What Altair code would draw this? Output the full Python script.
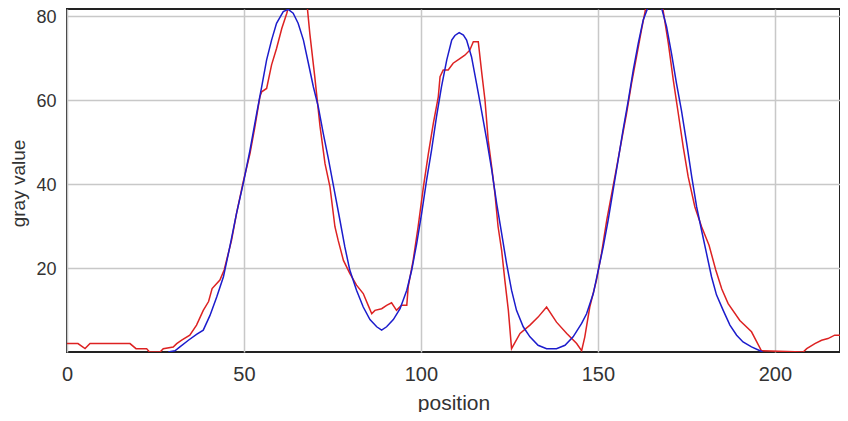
import altair as alt
import pandas as pd

# red profile (measured gray values)
red_pos = [0, 3.1, 5.1, 6.5, 17.8, 19.5, 22.5, 23.3, 26.3, 27.2, 30.0, 31.0, 32.4,
           34.7, 36.6, 38.5, 40.0, 41.0, 43.2, 44.4, 46.5, 47.9, 49.8, 51.7, 53.1,
           54.5, 55.0, 56.4, 57.8, 59.2, 60.7, 62.1, 63.0, 64.5, 66.3, 67.2, 67.7,
           68.6, 70.0, 71.5, 72.9, 74.3, 75.7, 76.6, 78.1, 79.9, 81.8, 83.7, 85.1,
           86.1, 87.0, 88.9, 90.3, 91.7, 93.1, 94.5, 96.0, 96.4, 97.8, 99.2, 100.7,
           102.1, 103.5, 104.9, 105.4, 106.3, 107.7, 109.1, 111.0, 112.4, 113.8,
           114.8, 116.2, 117.2, 118.1, 119.0, 120.0, 120.9, 121.8, 122.8, 123.7,
           124.7, 125.6, 128.0, 130.8, 133.1, 135.5, 138.3, 141.2, 144.0, 145.4,
           146.3, 147.7, 149.6, 151.0, 152.5, 153.9, 155.3, 156.7, 158.1, 159.5,
           160.9, 162.3, 163.8, 165.0, 166.8, 167.8, 168.4, 169.9, 171.3, 172.7,
           174.1, 175.5, 177.4, 179.3, 181.4, 183.3, 185.0, 186.8, 190.1, 193.4,
           196.2, 208.0, 209.0, 211.3, 213.2, 215.0, 216.9, 220.6]
red_val = [2.0, 2.0, 0.8, 2.0, 2.0, 0.8, 0.8, 0.0, 0.0, 0.8, 1.2, 2.0, 2.8,
           4.0, 6.4, 9.9, 12.0, 15.1, 17.1, 19.5, 26.6, 33.0, 40.5, 47.2, 53.6,
           60.7, 61.9, 62.7, 68.3, 72.2, 77.0, 80.6, 83.7, 86.5, 88.0, 88.0, 83.7,
           75.8, 65.5, 53.6, 44.8, 39.3, 29.8, 26.6, 21.8, 18.7, 15.9, 13.9, 11.1,
           9.1, 9.9, 10.3, 11.1, 11.7, 9.9, 11.1, 11.1, 15.5, 21.8, 29.8, 39.3,
           47.2, 54.4, 60.7, 65.5, 67.1, 67.1, 68.7, 69.8, 70.6, 71.8,
           73.8, 73.8, 66.3, 59.9, 50.4, 44.0, 37.7, 29.8, 24.2, 17.1,
           9.9, 0.8, 4.4, 6.4, 8.3, 10.7, 7.1, 4.4, 2.0, 0.3,
           3.6, 10.7, 17.1, 23.4, 31.4, 37.7, 44.0, 50.4, 56.8, 63.9,
           70.2, 76.6, 83.0, 86.0, 87.0, 85.0, 81.4, 73.4, 64.7, 56.8,
           48.8, 41.7, 34.5, 29.8, 25.4, 19.5, 15.0, 11.5, 7.5, 4.8,
           0.3, 0.0, 0.8, 2.0, 2.8, 3.2, 4.0, 4.0]

# blue fitted curve
blue_pos = [28.6, 30.5, 31.9, 34.3, 36.6, 38.5, 40.4, 42.3, 44.2, 46.0, 47.9,
            49.8, 51.7, 53.6, 55.0, 56.4, 57.8, 59.2, 61.1, 62.5, 63.9, 65.3,
            66.8, 68.2, 69.6, 71.0, 72.4, 73.8, 75.7, 77.1, 78.5, 79.9, 81.8,
            83.7, 85.6, 87.5, 88.9, 90.3, 92.2, 94.1, 96.0, 97.4, 98.8, 100.2,
            101.6, 103.0, 104.4, 105.8, 107.3, 108.7, 109.6, 110.8, 112.0, 112.9,
            114.3, 115.7, 117.1, 118.6, 120.0, 121.4, 122.8, 124.2, 125.6, 127.0,
            128.9, 130.8, 133.1, 135.5, 138.3, 140.7, 143.0, 145.4, 146.8, 148.7,
            150.1, 151.5, 152.9, 154.3, 155.7, 157.1, 158.6, 160.0, 161.4, 162.8,
            164.2, 166.1, 168.0, 169.4, 170.8, 172.2, 173.6, 175.1, 176.5, 177.9,
            179.3, 180.7, 182.1, 183.5, 185.4, 187.3, 189.2, 191.0, 193.4, 195.8,
            196.5]
blue_val = [0.0, 0.3, 1.2, 2.8, 4.2, 5.2, 8.7, 13.1, 17.9, 25.0, 33.0,
            40.1, 48.0, 56.8, 63.1, 69.5, 74.2, 78.2, 81.0, 81.5, 80.6, 78.2,
            74.2, 68.7, 63.1, 58.3, 52.0, 46.2, 37.7, 31.4, 25.0, 19.5, 14.7,
            10.7, 7.7, 6.0, 5.2, 6.0, 7.7, 10.3, 14.7, 19.5, 25.8, 33.0,
            40.9, 48.0, 56.0, 63.1, 69.5, 74.2, 75.3, 76.0, 75.4, 74.2,
            70.2, 63.9, 57.5, 50.4, 43.3, 35.3, 28.2, 21.0, 14.7, 9.9,
            6.0, 3.6, 1.6, 0.8, 0.8, 1.6, 3.6, 6.8, 9.1, 13.9,
            19.5, 25.0, 31.4, 38.5, 45.6, 52.8, 59.9, 67.1, 73.4, 79.0,
            82.1, 83.3, 81.8, 77.4, 71.0, 63.9, 57.5, 49.6, 41.7, 34.5,
            28.9, 23.4, 17.9, 13.6, 9.9, 6.4, 4.0, 2.4, 1.2, 0.3,
            0.0]

x_ticks = [0, 50, 100, 150, 200]
y_ticks = [20, 40, 60, 80]

red_df = pd.DataFrame({"position": red_pos, "value": red_val})
blue_df = pd.DataFrame({"position": blue_pos, "value": blue_val})

FONT = "Liberation Sans"
TXT = "#333333"

x_enc = alt.X(
    "position:Q",
    scale=alt.Scale(domain=[0, 218.4], nice=False, zero=False),
    axis=alt.Axis(
        values=x_ticks, ticks=False, domain=False, labelFlush=False,
        labelFontSize=20, labelPadding=12, labelColor=TXT, labelFont=FONT,
        grid=True, gridColor="#c8c8c8", gridWidth=1.5,
        title="position", titleFontSize=21, titleFontWeight="normal",
        titleColor=TXT, titleFont=FONT, titleY=57, titleBaseline="alphabetic",
    ),
)
y_enc = alt.Y(
    "value:Q",
    scale=alt.Scale(domain=[0, 81.6], nice=False),
    axis=alt.Axis(
        values=y_ticks, ticks=False, domain=False,
        labelFontSize=18, labelPadding=11, labelColor=TXT, labelFont=FONT,
        labelOffset=2,
        grid=True, gridColor="#c8c8c8", gridWidth=1.5,
        title="gray value", titleFontSize=19, titleFontWeight="normal",
        titleColor=TXT, titleFont=FONT, titleX=-43, titleY=174,
        titleBaseline="alphabetic",
    ),
)

red = alt.Chart(red_df).mark_line(color="#dd2222", strokeWidth=1.5, clip=True).encode(
    x=x_enc, y=y_enc
)
blue = alt.Chart(blue_df).mark_line(color="#1c1ccc", strokeWidth=1.5, clip=True).encode(
    x="position:Q", y="value:Q"
)

chart = (
    alt.layer(red, blue)
    .properties(
        width=773,
        height=343,
        background="white",
        autosize=alt.AutoSizeParams(type="none"),
        padding={"left": 59, "top": 1, "right": 0, "bottom": 60},
    )
    .configure_view(stroke="#222222", strokeWidth=2)
)

chart.save("out.html", embed_options={"renderer": "svg", "actions": False})
